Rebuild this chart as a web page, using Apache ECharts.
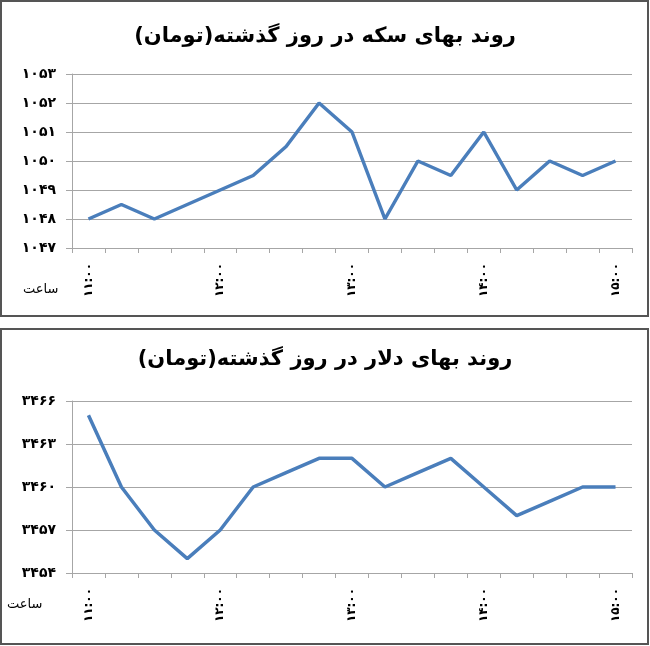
<!DOCTYPE html>
<html><head><meta charset="utf-8">
<script src="https://cdn.jsdelivr.net/npm/echarts@6/dist/echarts.min.js"></script>
<style>html,body{margin:0;padding:0;background:#fff;}#c{width:650px;height:646px;}</style>
</head><body><div id="c"></div>
<script>
const times = ['۱۱:۰۰','۱۱:۱۵','۱۱:۳۰','۱۱:۴۵','۱۲:۰۰','۱۲:۱۵','۱۲:۳۰','۱۲:۴۵','۱۳:۰۰','۱۳:۱۵','۱۳:۳۰','۱۳:۴۵','۱۴:۰۰','۱۴:۱۵','۱۴:۳۰','۱۴:۴۵','۱۵:۰۰'];
const coinPrices = [1048, 1048.5, 1048, 1048.5, 1049, 1049.5, 1050.5, 1052, 1051, 1048, 1050, 1049.5, 1051, 1049, 1050, 1049.5, 1050];
const dollarPrices = [3465, 3460, 3457, 3455, 3457, 3460, 3461, 3462, 3462, 3460, 3461, 3462, 3460, 3458, 3459, 3460, 3460];
const coinTitle = 'روند بهای سکه در روز گذشته(تومان)';
const dollarTitle = 'روند بهای دلار در روز گذشته(تومان)';
const axisName = 'ساعت';

const fa = n => String(n).replace(/[0-9]/g, d => '۰۱۲۳۴۵۶۷۸۹'[d]);
const FONT = 'DejaVu Sans';
const lineColor = '#4a7ebb';
const gridColor = '#a6a6a6';

function xAx(i){
  return {type:'category', gridIndex:i, data:times, boundaryGap:true,
    axisLine:{lineStyle:{color:gridColor,width:1}},
    axisTick:{show:true, interval:0, length:5, lineStyle:{color:gridColor}},
    axisLabel:{interval:3, rotate:90, margin:15, color:'#000', fontFamily:FONT, fontWeight:'bold', fontSize:12},
    splitLine:{show:false}};
}
function yAx(i,min,max,step){
  return {type:'value', gridIndex:i, min:min, max:max, interval:step,
    axisLine:{show:true, lineStyle:{color:gridColor,width:1}},
    axisTick:{show:true, length:6, lineStyle:{color:gridColor}},
    axisLabel:{formatter:v=>fa(v), margin:16, color:'#000', fontFamily:FONT, fontWeight:'bold', fontSize:14},
    splitLine:{show:true, lineStyle:{color:gridColor,width:1}}};
}
const chart = echarts.init(document.getElementById('c'), null, {renderer:'canvas'});
chart.setOption({
  animation:false,
  backgroundColor:'#fff',
  title:[
    {text:coinTitle, left:'center', top:21, textStyle:{fontFamily:FONT, fontWeight:'bold', fontSize:21, color:'#000'}},
    {text:dollarTitle, left:'center', top:344, textStyle:{fontFamily:FONT, fontWeight:'bold', fontSize:21, color:'#000'}}
  ],
  grid:[
    {left:72, right:18, top:74, height:174},
    {left:72, right:18, top:401, height:172}
  ],
  xAxis:[xAx(0), xAx(1)],
  yAxis:[yAx(0,1047,1053,1), yAx(1,3454,3466,3)],
  series:[
    {type:'line', xAxisIndex:0, yAxisIndex:0, data:coinPrices, showSymbol:false, symbol:'none', lineStyle:{color:lineColor,width:3.5}, itemStyle:{color:lineColor}},
    {type:'line', xAxisIndex:1, yAxisIndex:1, data:dollarPrices, showSymbol:false, symbol:'none', lineStyle:{color:lineColor,width:3.5}, itemStyle:{color:lineColor}}
  ],
  graphic:[
    {type:'rect', shape:{x:1, y:1, width:647, height:315}, style:{fill:null, stroke:'#555', lineWidth:2}, silent:true},
    {type:'rect', shape:{x:1, y:329, width:647, height:315}, style:{fill:null, stroke:'#555', lineWidth:2}, silent:true},
    {type:'text', left:23, top:283, style:{text:axisName, font:'13px "DejaVu Sans"', fill:'#000'}},
    {type:'text', left:7, top:598, style:{text:axisName, font:'13px "DejaVu Sans"', fill:'#000'}}
  ]
});
</script></body></html>
